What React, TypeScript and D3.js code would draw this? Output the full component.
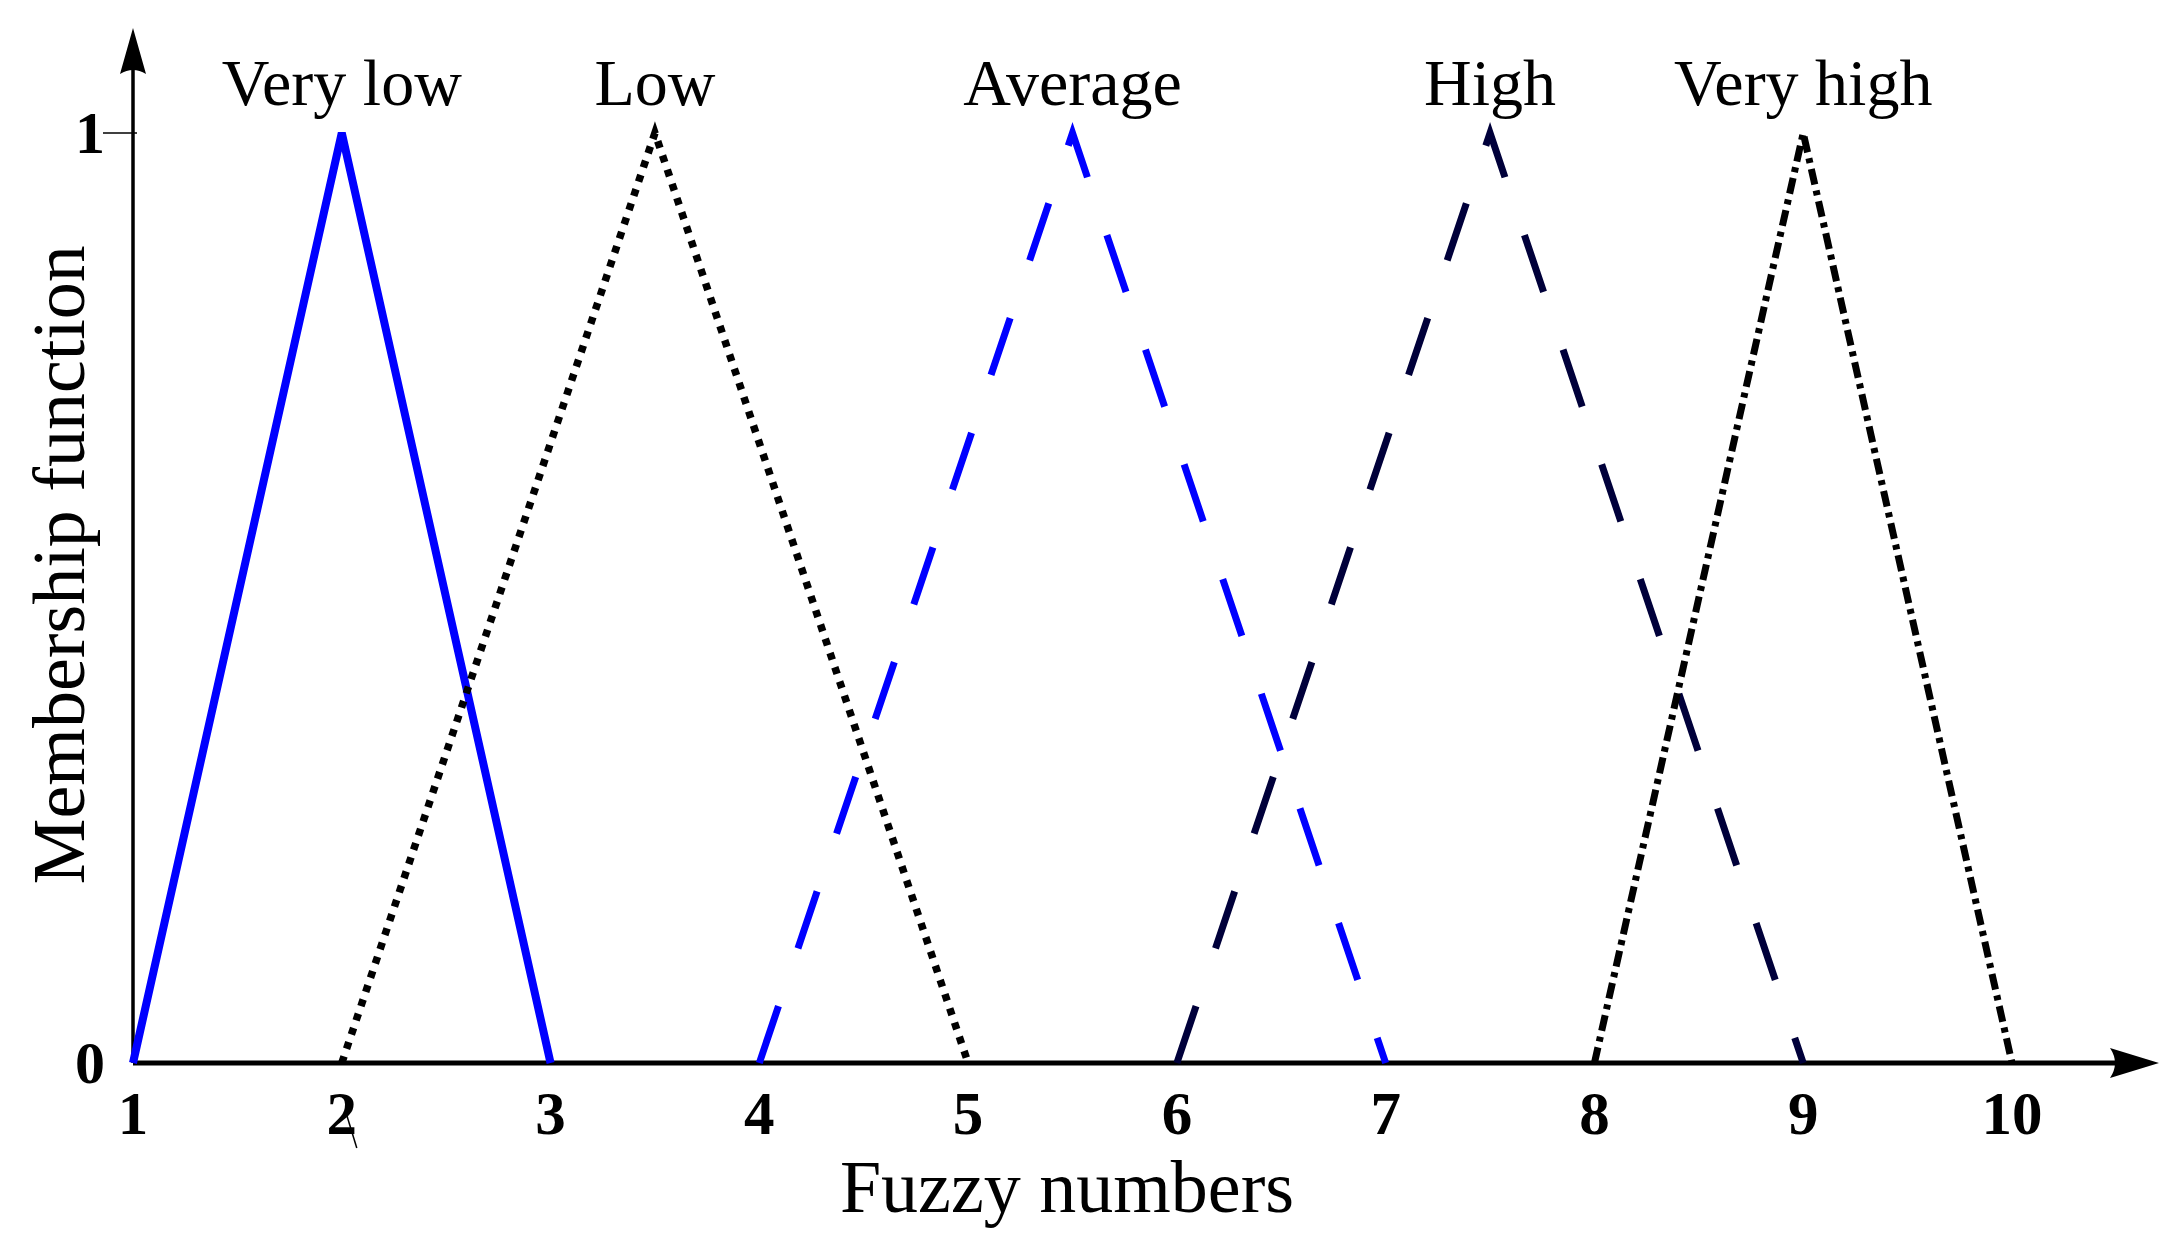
import React from "react";
import * as d3 from "d3";

const W = 2173;
const H = 1251;

const series = ["Very low", "Low", "Average", "High", "Very high"];
const seriesPoints: [number, number][][] = [
  [[1, 0], [2, 1], [3, 0]],
  [[2, 0], [3.5, 1], [5, 0]],
  [[4, 0], [5.5, 1], [7, 0]],
  [[6, 0], [7.5, 1], [9, 0]],
  [[8, 0], [9, 1], [10, 0]],
];
const seriesColors = ["#0000ff", "#000000", "#0000ff", "#00003a", "#000000"];
const seriesDash = ["", "7 8", "60 61", "60 61", "16 6 5 6"];
const seriesWidth = [8, 7.5, 7, 7, 7];
const xTicks = [1, 2, 3, 4, 5, 6, 7, 8, 9, 10];
const yTicks = [0, 1];

export default function App() {
  const x = d3.scaleLinear().domain([1, 10]).range([133, 2012]);
  const y = d3.scaleLinear().domain([0, 1]).range([1063, 133]);
  const line = d3
    .line<[number, number]>()
    .x((d) => x(d[0]))
    .y((d) => y(d[1]));

  const font = "'Liberation Serif', 'Times New Roman', serif";
  const x0 = x(1);
  const y0 = y(0);

  return (
    <svg
      width={W}
      height={H}
      style={{ position: "absolute", left: 0, top: 0, background: "#fff" }}
      fontFamily={font}
    >
      <rect width={W} height={H} fill="#fff" />
      {/* x axis */}
      <line x1={x0} x2={2120} y1={y0} y2={y0} stroke="#000" strokeWidth={5} />
      <path
        d={`M2159,${y0} L2110,${y0 - 15} Q2120,${y0} 2110,${y0 + 15} Z`}
        fill="#000"
      />
      {/* y axis */}
      <line x1={x0} x2={x0} y1={y0} y2={66} stroke="#000" strokeWidth={3.5} />
      <path
        d={`M${x0},28 L${x0 - 13},74 Q${x0},66 ${x0 + 13},74 Z`}
        fill="#000"
      />
      {/* series */}
      {seriesPoints.map((pts, i) => (
        <path
          key={series[i]}
          d={line(pts) || ""}
          fill="none"
          stroke={seriesColors[i]}
          strokeWidth={seriesWidth[i]}
          strokeDasharray={seriesDash[i] || undefined}
          strokeLinejoin="miter"
        />
      ))}
      {/* series labels */}
      {seriesPoints.map((pts, i) => (
        <text
          key={"l" + i}
          x={x(pts[1][0])}
          y={105}
          textAnchor="middle"
          fontSize={66}
          fill="#000"
        >
          {series[i]}
        </text>
      ))}
      {/* y tick at 1 */}
      <line x1={x0 - 30} x2={x0 + 4} y1={y(1)} y2={y(1)} stroke="#000" strokeWidth={1.5} />
      {yTicks.map((t) => (
        <text
          key={"y" + t}
          x={90}
          y={y(t) + 20}
          textAnchor="middle"
          fontSize={60}
          fontWeight="bold"
          fill="#000"
        >
          {t}
        </text>
      ))}
      {/* x tick labels */}
      {xTicks.map((t) => (
        <text
          key={"x" + t}
          x={x(t)}
          y={1134}
          textAnchor="middle"
          fontSize={61}
          fontWeight="bold"
          fill="#000"
        >
          {t}
        </text>
      ))}
      {/* stray mark under label 2 */}
      <line x1={x(2) + 4} y1={1112} x2={x(2) + 15} y2={1148} stroke="#000" strokeWidth={1.5} />
      {/* axis titles */}
      <text x={1067} y={1212} textAnchor="middle" fontSize={74} fill="#000">
        Fuzzy numbers
      </text>
      <text
        transform={`translate(84, ${((170 + 645) / 2) * 1.3858}) rotate(-90)`}
        textAnchor="middle"
        fontSize={74}
        fill="#000"
      >
        Membership function
      </text>
    </svg>
  );
}
